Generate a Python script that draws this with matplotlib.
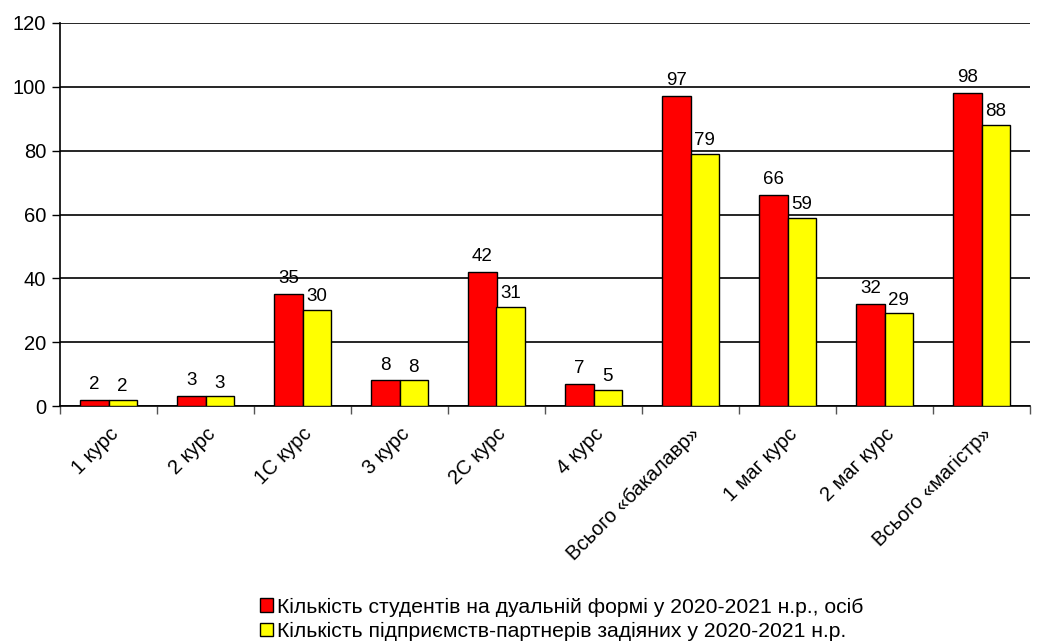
import numpy as np
import matplotlib.pyplot as plt
from matplotlib.patches import Patch

plt.rcParams['font.family'] = ['Liberation Sans', 'DejaVu Sans']

# ---- дані ----
categories = ['1 курс', '2 курс', '1С курс', '3 курс', '2С курс', '4 курс',
              'Всього «бакалавр»', '1 маг курс', '2 маг курс', 'Всього «магістр»']
students = [2, 3, 35, 8, 42, 7, 97, 66, 32, 98]
partners = [2, 3, 30, 8, 31, 5, 79, 59, 29, 88]
series_names = ['Кількість студентів на дуальній формі у 2020-2021 н.р., осіб',
                'Кількість підприємств-партнерів задіяних у 2020-2021 н.р.']
y_ticks = [0, 20, 40, 60, 80, 100, 120]

fig = plt.figure(figsize=(10.4, 6.44), dpi=100)
ax = fig.add_axes([60 / 1040, 1 - 406 / 644, 970 / 1040, 383 / 644])

x = np.arange(len(categories))
w = 0.29
b1 = ax.bar(x - w / 2, students, w, color='#ff0000', edgecolor='black', linewidth=1, zorder=3)
b2 = ax.bar(x + w / 2, partners, w, color='#ffff00', edgecolor='black', linewidth=1, zorder=3)

for rect, v in zip(b1, students):
    ax.annotate(str(v), (rect.get_x() + rect.get_width() / 2, v), xytext=(0, 5),
                textcoords='offset points', ha='center', va='bottom', fontsize=13.5)
for rect, v in zip(b2, partners):
    ax.annotate(str(v), (rect.get_x() + rect.get_width() / 2, v), xytext=(0, 3.5),
                textcoords='offset points', ha='center', va='bottom', fontsize=13.5)

ax.set_xlim(-0.5, len(categories) - 0.5)
ax.set_ylim(0, 120)
ax.set_yticks(y_ticks)
ax.set_yticklabels([str(t) for t in y_ticks], fontsize=14.5)
ax.yaxis.grid(True, color='black', linewidth=1.2, zorder=0)
ax.tick_params(axis='y', length=6, width=1, pad=4)

ax.set_xticks(x)
ax.set_xticklabels(categories, rotation=45, ha='right', rotation_mode='anchor', fontsize=14.5)
ax.tick_params(axis='x', length=0, pad=13)
ax.set_xticks(np.arange(len(categories) + 1) - 0.5, minor=True)
ax.tick_params(axis='x', which='minor', length=6, width=1, color='#555555')

ax.spines['top'].set_visible(False)
ax.spines['right'].set_visible(False)
ax.spines['left'].set_linewidth(1.2)
ax.spines['bottom'].set_linewidth(1.2)

handles = [Patch(facecolor='#ff0000', edgecolor='black'),
           Patch(facecolor='#ffff00', edgecolor='black')]
fig.legend(handles, series_names, loc='upper left', bbox_to_anchor=(249 / 1040, 1 - 587 / 644),
           frameon=False, fontsize=15.2, handlelength=0.62, handleheight=0.62,
           handletextpad=0.2, labelspacing=0.25, borderpad=0)

fig.savefig('out.png', dpi=100)
